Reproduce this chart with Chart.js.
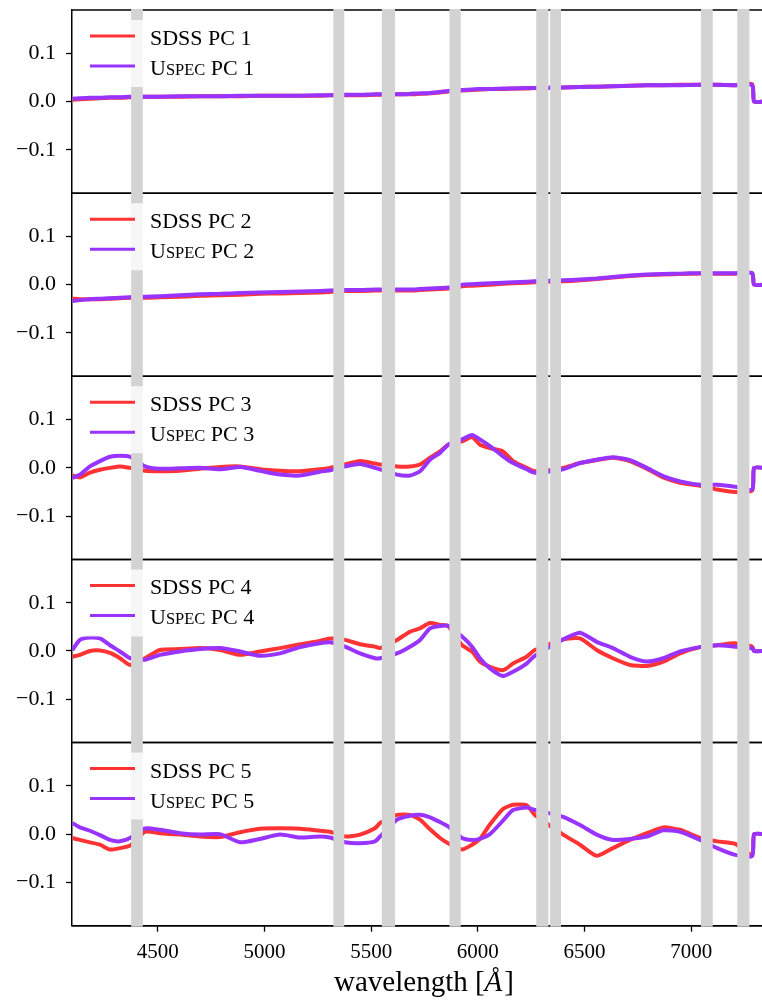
<!DOCTYPE html>
<html>
<head>
<meta charset="utf-8">
<script src="https://cdn.jsdelivr.net/npm/chart.js@4.4.1/dist/chart.umd.min.js"></script>
<style>
html,body{margin:0;padding:0;background:#fff;}
#wrap{width:762px;height:1003px;position:relative;}
</style>
</head>
<body>
<div id="wrap"><canvas id="c" width="762" height="1003"></canvas></div>
<script>
// ---- data ----
const wavelength = [4100,4135,4182,4229,4276,4323,4370,4440,4510,4604,4698,4792,4886,4979,5073,5167,5260,5307,5378,5448,5518,5542,5621,5682,5729,5776,5823,5861,5926,5973,6010,6057,6118,6165,6229,6267,6400,6479,6557,6633,6713,6792,6869,6948,7042,7122,7206,7286,7295,7340];

const sdss1 = [0.004,0.005,0.006,0.007,0.008,0.008,0.009,0.010,0.010,0.010, 0.011,0.011,0.011,0.012,0.012,0.012,0.012,0.013,0.013,0.013, 0.014,0.014,0.015,0.015,0.016,0.017,0.019,0.021,0.023,0.024, 0.025,0.026,0.026,0.027,0.027,0.028,0.029,0.030,0.031,0.032, 0.033,0.034,0.034,0.035,0.035,0.035,0.034,0.036,0,0];
const uspec1 = [0.006,0.007,0.008,0.008,0.009,0.009,0.010,0.010,0.010,0.011, 0.011,0.011,0.012,0.012,0.012,0.012,0.013,0.013,0.014,0.014, 0.015,0.015,0.015,0.016,0.017,0.018,0.020,0.022,0.024,0.025, 0.026,0.026,0.027,0.027,0.028,0.028,0.029,0.030,0.031,0.032, 0.033,0.034,0.034,0.034,0.035,0.035,0.034,0.034,0,0];

const sdss2 = [-0.029,-0.030,-0.030,-0.030,-0.029,-0.028,-0.027,-0.027,-0.026,-0.025, -0.023,-0.022,-0.021,-0.019,-0.018,-0.017,-0.016,-0.015,-0.013,-0.013, -0.012,-0.012,-0.012,-0.012,-0.011,-0.010,-0.009,-0.008,-0.003,-0.002, -0.001,0.000,0.002,0.003,0.004,0.005,0.007,0.009,0.012,0.015, 0.018,0.020,0.021,0.022,0.023,0.023,0.023,0.024,0,0];
const uspec2 = [-0.034,-0.032,-0.030,-0.029,-0.028,-0.027,-0.026,-0.025,-0.024,-0.022, -0.020,-0.019,-0.017,-0.016,-0.015,-0.014,-0.013,-0.012,-0.011,-0.011, -0.010,-0.010,-0.010,-0.010,-0.009,-0.008,-0.007,-0.006,0.000,0.001, 0.002,0.003,0.004,0.005,0.006,0.007,0.009,0.011,0.013,0.016, 0.019,0.021,0.022,0.023,0.024,0.024,0.024,0.024,0,0];

const sdss3 = [-0.016,-0.020,-0.010,-0.004,0.000,0.003,0.000,-0.006,-0.007,-0.006, -0.002,0.002,0.003,-0.003,-0.006,-0.007,-0.003,0.000,0.007,0.014, 0.009,0.007,0.003,0.003,0.007,0.021,0.034,0.048,0.055,0.064, 0.048,0.041,0.034,0.014,0.000,-0.007,0.000,0.010,0.016,0.021, 0.014,-0.002,-0.020,-0.031,-0.037,-0.045,-0.050,-0.047,0,0];
const uspec3 = [-0.021,-0.014,0.003,0.014,0.023,0.025,0.023,0.003,-0.002,-0.001, 0.000,-0.003,0.002,-0.006,-0.014,-0.016,-0.008,-0.005,0.003,0.008, 0.000,-0.003,-0.014,-0.016,-0.007,0.017,0.031,0.048,0.059,0.068, 0.059,0.045,0.024,0.010,-0.003,-0.010,-0.003,0.010,0.017,0.022, 0.016,0.000,-0.017,-0.028,-0.035,-0.035,-0.039,-0.045,0,0];

const sdss4 = [-0.012,-0.008,0.000,0.001,-0.004,-0.015,-0.029,-0.015,0.002,0.004, 0.006,0.002,-0.008,-0.001,0.006,0.014,0.021,0.026,0.023,0.014, 0.009,0.006,0.023,0.040,0.047,0.058,0.054,0.052,0.012,-0.001, -0.022,-0.033,-0.040,-0.026,-0.012,0.002,0.024,0.026,0.002,-0.015, -0.029,-0.031,-0.022,-0.005,0.008,0.012,0.016,0.009,0,0];
const uspec4 = [0.002,0.023,0.028,0.026,0.012,-0.001,-0.015,-0.018,-0.008,-0.001, 0.004,0.006,-0.001,-0.010,-0.005,0.008,0.016,0.018,0.009,-0.005, -0.015,-0.015,-0.005,0.009,0.023,0.047,0.052,0.052,0.030,0.009, -0.015,-0.036,-0.052,-0.043,-0.026,-0.010,0.024,0.038,0.019,0.006, -0.012,-0.022,-0.015,-0.001,0.008,0.012,0.009,0.006,0,0];

const sdss5 = [-0.008,-0.012,-0.017,-0.022,-0.032,-0.029,-0.024,0.005,0.002,-0.001, -0.005,-0.006,0.004,0.011,0.012,0.011,0.007,0.005,-0.005,-0.001, 0.012,0.023,0.040,0.040,0.030,0.010,-0.008,-0.019,-0.032,-0.022, -0.010,0.020,0.052,0.061,0.060,0.040,-0.001,-0.022,-0.045,-0.029, -0.012,0.002,0.014,0.009,-0.008,-0.015,-0.020,-0.043,0,0];
const uspec5 = [0.023,0.014,0.007,-0.002,-0.012,-0.015,-0.008,0.012,0.009,0.002, -0.001,0.000,-0.017,-0.010,-0.001,-0.007,-0.005,-0.007,-0.017,-0.019, -0.015,-0.005,0.030,0.038,0.040,0.035,0.025,0.016,-0.008,-0.012, -0.010,0.000,0.028,0.050,0.055,0.050,0.036,0.019,-0.001,-0.012, -0.010,-0.005,0.008,0.005,-0.012,-0.029,-0.043,-0.045,0,0];

const sdssSeries = [sdss1, sdss2, sdss3, sdss4, sdss5];
const uspecSeries = [uspec1, uspec2, uspec3, uspec4, uspec5];
const pcLabels = ['PC 1','PC 2','PC 3','PC 4','PC 5'];

const xTicks = [4500, 5000, 5500, 6000, 6500, 7000];
const yTicks = [-0.1, 0.0, 0.1];
const yTickLabels = ['\u22120.1', '0.0', '0.1'];

// masked wavelength bands [start, end]
const maskBands = [[4375,4430],[5323,5374],[5550,5612],[5867,5920],[6274,6331],[6339,6390],[7046,7101],[7216,7273]];

// ---- styling ----
const RED = '#ff3333';
const PURPLE = '#9933ff';
const FONT = 'Liberation Serif';
const NP = 5;

const datasets = [];
for (let k = 0; k < NP; k++) {
  datasets.push({
    label: 'Uspec ' + pcLabels[k],
    data: wavelength.map((w, i) => ({x: w, y: uspecSeries[k][i]})),
    yAxisID: 'y' + (k + 1),
    borderColor: PURPLE, backgroundColor: PURPLE,
    borderWidth: 4, pointRadius: 0, tension: 0.2, order: 0,
    borderJoinStyle: 'round', borderCapStyle: 'butt'
  });
  datasets.push({
    label: 'SDSS ' + pcLabels[k],
    data: wavelength.map((w, i) => ({x: w, y: sdssSeries[k][i]})),
    yAxisID: 'y' + (k + 1),
    borderColor: RED, backgroundColor: RED,
    borderWidth: 4, pointRadius: 0, tension: 0.2, order: 1,
    borderJoinStyle: 'round', borderCapStyle: 'butt'
  });
}

const gridCfg = {display: true, drawOnChartArea: false, drawTicks: true, tickLength: 6, tickWidth: 1.3, color: '#000'};
const borderCfg = {display: true, color: '#000', width: 1.5};
const noPad = s => { s.paddingTop = 0; s.paddingBottom = 0; s.paddingLeft = 0; s.paddingRight = 0; };

const scales = {
  x: {
    type: 'linear', position: 'bottom', min: 4098, max: 7332,
    afterBuildTicks: s => { s.ticks = xTicks.map(v => ({value: v})); },
    afterFit: s => { s.height = 1003 - 925.7; noPad(s); },
    grid: gridCfg, border: borderCfg,
    ticks: {font: {family: FONT, size: 21}, color: '#000', padding: 8, maxRotation: 0, autoSkip: false,
            callback: v => String(v)}
  }
};
for (let k = 0; k < NP; k++) {
  scales['y' + (k + 1)] = {
    type: 'linear', position: 'left', stack: 'pcs', stackWeight: 1, weight: NP - k,
    min: -0.19, max: 0.19,
    afterBuildTicks: s => { s.ticks = yTicks.map(v => ({value: v})); },
    afterFit: s => { s.width = 72; noPad(s); },
    grid: gridCfg, border: borderCfg,
    ticks: {font: {family: FONT, size: 22}, color: '#000', padding: 10,
            callback: v => { const i = yTicks.findIndex(t => Math.abs(t - v) < 1e-9); return i >= 0 ? yTickLabels[i] : ''; }}
  };
}

const deco = {
  id: 'deco',
  beforeDatasetsDraw(chart) {
    const {ctx, chartArea: a} = chart;
    ctx.save();
    ctx.strokeStyle = '#000';
    ctx.lineWidth = 1.5;
    for (let k = 0; k < NP; k++) {
      const s = chart.scales['y' + (k + 1)];
      [s.top, s.bottom].forEach(y => {
        ctx.beginPath(); ctx.moveTo(a.left, y); ctx.lineTo(a.right, y); ctx.stroke();
      });
    }
    ctx.restore();
  },
  afterDatasetsDraw(chart) {
    const {ctx, chartArea: a} = chart;
    const xs = chart.scales.x;
    ctx.save();
    ctx.fillStyle = '#d3d3d3';
    maskBands.forEach(([w0, w1]) => {
      const x0 = xs.getPixelForValue(w0), x1 = xs.getPixelForValue(w1);
      ctx.fillRect(x0, a.top - 1, x1 - x0, a.bottom - a.top + 2);
    });
    ctx.restore();
  },
  afterDraw(chart) {
    const {ctx} = chart;
    ctx.save();
    for (let k = 0; k < NP; k++) {
      const top = chart.scales['y' + (k + 1)].top;
      // legend frame (semi-transparent white)
      ctx.fillStyle = 'rgba(255,255,255,0.8)';
      ctx.beginPath();
      if (ctx.roundRect) ctx.roundRect(80, top + 10, 190, 67, 4); else ctx.rect(80, top + 10, 190, 67);
      ctx.fill();
      // handles
      ctx.lineWidth = 3;
      ctx.strokeStyle = RED;
      ctx.beginPath(); ctx.moveTo(90, top + 26); ctx.lineTo(135, top + 26); ctx.stroke();
      ctx.strokeStyle = PURPLE;
      ctx.beginPath(); ctx.moveTo(90, top + 56); ctx.lineTo(135, top + 56); ctx.stroke();
      // texts
      ctx.fillStyle = '#000';
      ctx.textAlign = 'left';
      ctx.textBaseline = 'alphabetic';
      ctx.font = '22px "' + FONT + '"';
      ctx.fillText('SDSS ' + pcLabels[k], 150, top + 35);
      let x = 150;
      ctx.fillText('U', x, top + 65);
      x += ctx.measureText('U').width;
      ctx.font = '16.5px "' + FONT + '"';
      ctx.fillText('SPEC', x, top + 65);
      x += ctx.measureText('SPEC').width;
      ctx.font = '22px "' + FONT + '"';
      ctx.fillText(' ' + pcLabels[k], x, top + 65);
    }
    // x-axis title: wavelength [Å]
    const partA = 'wavelength [', partB = '\u00C5', partC = ']';
    ctx.font = '29px "' + FONT + '"';
    const wA = ctx.measureText(partA).width, wC = ctx.measureText(partC).width;
    ctx.font = 'italic 29px "' + FONT + '"';
    const wB = ctx.measureText(partB).width;
    const x0 = 424 - (wA + wB + wC + 2) / 2;
    const yb = 991;
    ctx.font = '29px "' + FONT + '"';
    ctx.fillText(partA, x0, yb);
    ctx.font = 'italic 29px "' + FONT + '"';
    ctx.fillText(partB, x0 + wA, yb);
    ctx.font = '29px "' + FONT + '"';
    ctx.fillText(partC, x0 + wA + wB + 2, yb);
    ctx.restore();
  }
};

new Chart(document.getElementById('c'), {
  type: 'line',
  data: {datasets},
  options: {
    responsive: false, animation: false, devicePixelRatio: 1,
    layout: {padding: {top: 10, left: 0, right: 0, bottom: 0}},
    plugins: {legend: {display: false}, tooltip: {enabled: false}, title: {display: false}},
    scales
  },
  plugins: [deco]
});
</script>
</body>
</html>
